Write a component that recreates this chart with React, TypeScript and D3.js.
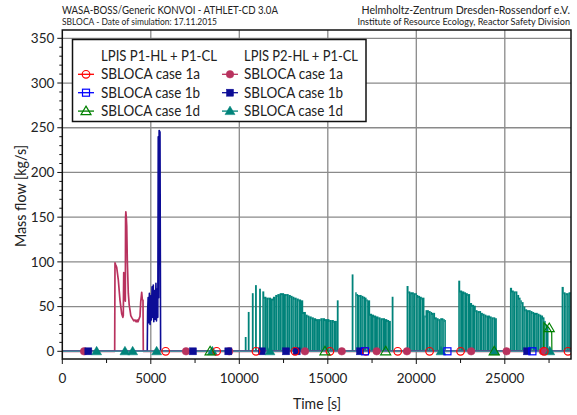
import React from "react";
import * as d3 from "d3";

// ---------- DATA ----------
const xTicks = [0, 5000, 10000, 15000, 20000, 25000];
const yTicks = [0, 50, 100, 150, 200, 250, 300, 350];

// P2 case 1a (crimson) time / mass flow
const p2aLine: [number, number][] = [
  [0, 0], [2960, 0], [2977, 99], [3010, 97], [3073, 94], [3164, 80], [3260, 57], [3356, 42],
  [3420, 38], [3446, 40], [3470, 88], [3500, 84], [3525, 60], [3560, 56], [3575, 150],
  [3590, 156], [3615, 150], [3640, 140], [3672, 102], [3729, 65], [3780, 52], [3825, 46],
  [3870, 40], [3921, 38], [3980, 36], [4040, 34], [4107, 35], [4170, 33], [4230, 35],
  [4277, 33], [4330, 36], [4390, 39], [4430, 55], [4486, 66], [4520, 58], [4559, 57],
  [4576, 0], [28740, 0],
];
// P2 case 1b (navy)
const p2bLine: [number, number][] = [
  [0, 0], [4800, 0], [4820, 45], [4850, 60], [4880, 32], [4920, 65], [4960, 30], [5000, 62],
  [5030, 35], [5070, 72], [5100, 38], [5140, 74], [5170, 33], [5210, 68], [5250, 36],
  [5290, 76], [5320, 34], [5360, 70], [5395, 38], [5420, 240], [5445, 60], [5470, 247],
  [5520, 245], [5555, 0], [28740, 0],
];
// P1 case 1d (green) – small late rise
const p1dLine: [number, number][] = [
  [0, 0], [27200, 0], [27210, 32], [27500, 26], [27650, 21], [27660, 0], [28740, 0],
];
const p1aLine: [number, number][] = [[0, 0], [28740, 0]];
const p1bLine: [number, number][] = [[0, 0], [28740, 0]];
const p2dLine: [number, number][] = [[0, 0], [28740, 0]];

// P2 case 1d (teal) isolated pump spikes [time, flow]
const p2dSpikes: [number, number][] = [
  [10360, 16], [10530, 44], [10760, 65], [10940, 74], [11170, 70],
  [15560, 57], [16400, 86], [18660, 61],
];
// P2 case 1d (teal) dense pump-cycling blocks, step envelopes [time, flow]; last = end
const p2dBlock1: [number, number][] = [
  [11300, 67], [11400, 61], [11520, 60], [11650, 60], [11780, 59], [11900, 61], [12030, 63],
  [12150, 64], [12280, 65], [12400, 65], [12520, 64], [12650, 64], [12780, 63], [12900, 62],
  [13000, 61], [13100, 60], [13230, 59], [13350, 58], [13480, 57], [13600, 44], [13750, 41],
  [13850, 40], [13950, 39], [14080, 38], [14200, 37], [14330, 36], [14450, 36], [14580, 37],
  [14700, 37], [14830, 36], [14950, 36], [15080, 35], [15200, 35], [15330, 34], [15450, 34],
  [15500, 0],
];
const p2dBlock2: [number, number][] = [
  [16550, 66], [16620, 64], [16700, 63], [16800, 63], [16900, 62], [17000, 61], [17100, 60],
  [17180, 58], [17250, 57], [17380, 42], [17490, 41], [17600, 40], [17720, 39], [17850, 38],
  [17970, 37], [18100, 37], [18220, 36], [18350, 35], [18450, 34], [18550, 0],
];
const p2dBlock3: [number, number][] = [
  [19450, 73], [19550, 67], [19650, 66], [19750, 66], [19850, 65], [19950, 65], [20020, 63],
  [20100, 62], [20200, 61], [20300, 60], [20450, 40], [20520, 46], [20600, 46], [20700, 45],
  [20800, 44], [20880, 43], [20950, 43], [21050, 38], [21150, 37], [21250, 36], [21350, 37],
  [21450, 37], [21520, 36], [21600, 35], [21660, 0],
];
const p2dBlock4: [number, number][] = [
  [22370, 79], [22470, 68], [22580, 67], [22700, 66], [22800, 65], [22900, 64], [23030, 54],
  [23140, 52], [23250, 51], [23350, 46], [23450, 45], [23550, 45], [23650, 43], [23750, 42],
  [23850, 41], [23950, 40], [24050, 40], [24150, 39], [24250, 38], [24350, 38], [24450, 37],
  [24540, 0],
];
const p2dBlock5: [number, number][] = [
  [25290, 71], [25400, 68], [25500, 67], [25600, 67], [25700, 63], [25800, 60], [25880, 57],
  [25950, 55], [26050, 50], [26150, 47], [26250, 46], [26350, 46], [26450, 45], [26550, 44],
  [26650, 43], [26750, 43], [26850, 42], [26950, 41], [27050, 40], [27150, 38], [27230, 34],
  [27300, 30], [27380, 28], [27460, 0],
];
const p2dBlock6: [number, number][] = [
  [28210, 72], [28320, 66], [28420, 65], [28500, 65], [28600, 66], [28700, 66], [28900, 0],
];

// marker positions on the curves (time)
const p1aMarks = [5840, 8720, 10940, 13150, 15120, 17150, 18950, 20750, 22500, 27230, 28570];
const p1bMarks = [17100, 21760, 26560];
const p1dMarks: [number, number][] = [[8350, 0], [14840, 0], [18270, 0], [24400, 0], [27510, 26]];
const p2aMarks = [1230, 6990, 9430, 13710, 15790, 17760, 19470, 23100, 25100, 27150];
const p2bMarks = [1470, 7380, 9380, 11270, 12640, 13240, 16820, 26260];
const p2dMarks = [1940, 3540, 3975, 5330, 8475, 11730, 21400, 24420, 27540];

const legendHeaders = ["LPIS P1-HL + P1-CL", "LPIS P2-HL + P1-CL"];
const legendLabels = ["SBLOCA case 1a", "SBLOCA case 1b", "SBLOCA case 1d"];

// ---------- STYLE ----------
const C = {
  p1a: "#ff0000",
  p1b: "#0000ff",
  p1d: "#008000",
  p2a: "#b8325e",
  p2b: "#0c0c96",
  p2d: "#00837a",
};
const FONT = "Lato, 'Open Sans', sans-serif";

const W = 577, H = 415;
const L = 62.3, R = 571, T = 30, B = 359;

export default function App() {
  const x = d3.scaleLinear().domain([0, 28740]).range([L, R]);
  const y = d3.scaleLinear().domain([-8.6, 359.3]).range([B, T]);
  const line = d3.line<[number, number]>().x((d) => x(d[0])).y((d) => y(d[1]));

  const y0 = y(0);

  const circle = (cx: number, cy: number, color: string, filled: boolean, key: string) => (
    <circle key={key} cx={cx} cy={cy} r={3.8} fill={filled ? color : "none"} stroke={color} strokeWidth={filled ? 0.5 : 1.2} />
  );
  const square = (cx: number, cy: number, color: string, filled: boolean, key: string) => (
    <rect key={key} x={cx - 3.5} y={cy - 3.5} width={7} height={7} fill={filled ? color : "none"} stroke={color} strokeWidth={filled ? 0.5 : 1.2} />
  );
  const tri = (cx: number, cy: number, color: string, filled: boolean, key: string) => (
    <path key={key} d={`M${cx},${cy - 5} L${cx + 5},${cy + 3.5} L${cx - 5},${cy + 3.5} Z`} fill={filled ? color : "none"} stroke={color} strokeWidth={filled ? 0.5 : 1.2} />
  );

  const blocks = [p2dBlock1, p2dBlock2, p2dBlock3, p2dBlock4, p2dBlock5, p2dBlock6];

  const xMinor = d3.range(0, 28741, 2500);
  const yMinor = d3.range(0, 351, 10);

  const txt = { fill: "#222", lengthAdjust: "spacingAndGlyphs" as const };

  return (
    <svg width={W} height={H} style={{ position: "absolute", left: 0, top: 0, background: "#fff" }} fontFamily={FONT}>
      <rect x={0} y={0} width={W} height={H} fill="#fff" />
      {/* header */}
      <text x={62} y={14} fontSize={12} textLength={216} {...txt}>WASA-BOSS/Generic KONVOI - ATHLET-CD 3.0A</text>
      <text x={62} y={25} fontSize={9.5} textLength={155} {...txt}>SBLOCA - Date of simulation: 17.11.2015</text>
      <text x={570} y={14} fontSize={10.6} textAnchor="end" fill="#222">Helmholtz-Zentrum Dresden-Rossendorf e.V.</text>
      <text x={570} y={25} fontSize={9.1} textAnchor="end" fill="#222">Institute of Resource Ecology, Reactor Safety Division</text>

      <defs>
        <clipPath id="plot">
          <rect x={L} y={T} width={R - L} height={B - T} />
        </clipPath>
      </defs>

      {/* grid */}
      {xTicks.filter((t) => t > 0).map((t) => (
        <line key={"gx" + t} x1={x(t)} x2={x(t)} y1={T} y2={B} stroke="#8a8a8a" strokeWidth={1.3} />
      ))}
      {yTicks.filter((t) => t > 0).map((t) => (
        <line key={"gy" + t} x1={L} x2={R} y1={y(t)} y2={y(t)} stroke="#8a8a8a" strokeWidth={1.3} />
      ))}

      <g clipPath="url(#plot)">
        {/* P2 case 1d blocks */}
        {blocks.map((b, bi) => (
          <g key={"b" + bi}>
            {b.slice(0, -1).map((d, i) => {
              const x1 = x(d[0]);
              const x2 = x(b[i + 1][0]);
              return <rect key={i} x={x1} y={y(d[1])} width={x2 - x1 + 0.2} height={y0 - y(d[1])} fill={C.p2d} />;
            })}
            {b.slice(1, -1).map((d, i) => (
              i % 2 === 0 ? (
                <line key={"l" + i} x1={x(d[0])} x2={x(d[0])} y1={y(Math.min(d[1], b[i][1])) + 2} y2={y0 - 1} stroke="#a8d8d0" strokeWidth={0.6} opacity={0.75} />
              ) : null
            ))}
          </g>
        ))}
        {p2dSpikes.map((d, i) => (
          <rect key={"s" + i} x={x(d[0]) - 0.9} y={y(d[1])} width={1.8} height={y0 - y(d[1])} fill={C.p2d} />
        ))}
        <path d={line(p2aLine) || ""} fill="none" stroke={C.p2a} strokeWidth={1.7} strokeLinejoin="round" />
        <path d={line(p2bLine) || ""} fill="none" stroke={C.p2b} strokeWidth={1.6} strokeLinejoin="round" />
        <path d={line(p1dLine) || ""} fill="none" stroke={C.p1d} strokeWidth={1.2} />
        <path d={line(p1aLine) || ""} fill="none" stroke={C.p1a} strokeWidth={1.2} />
        <path d={line(p1bLine) || ""} fill="none" stroke={C.p1b} strokeWidth={1.2} />
        <path d={line(p2dLine) || ""} fill="none" stroke="#4a8a9c" strokeWidth={1.6} />

        {/* markers */}
        {p2aMarks.map((t, i) => circle(x(t), y0, C.p2a, true, "ma" + i))}
        {p2bMarks.map((t, i) => square(x(t), y0, C.p2b, true, "mb" + i))}
        {p2dMarks.map((t, i) => tri(x(t), y0, C.p2d, true, "md" + i))}
        {p1aMarks.map((t, i) => circle(x(t), y0, C.p1a, false, "na" + i))}
        {p1bMarks.map((t, i) => square(x(t), y0, C.p1b, false, "nb" + i))}
        {p1dMarks.map((d, i) => tri(x(d[0]), y(d[1]), C.p1d, false, "nd" + i))}
      </g>

      {/* frame */}
      <rect x={L} y={T} width={R - L} height={B - T} fill="none" stroke="#111" strokeWidth={1.5} />

      {/* y ticks */}
      {yMinor.map((t) => (
        <line key={"ym" + t} x1={L - (t % 50 === 0 ? 5 : 3)} x2={L} y1={y(t)} y2={y(t)} stroke="#111" strokeWidth={1} />
      ))}
      {yTicks.map((t) => (
        <text key={"yl" + t} x={L - 8} y={y(t)} dy="0.35em" textAnchor="end" fontSize={13.5} fill="#222">{t}</text>
      ))}
      {/* x ticks */}
      {xMinor.map((t) => (
        <line key={"xm" + t} x1={x(t)} x2={x(t)} y1={B} y2={B + (t % 5000 === 0 ? 5 : 4)} stroke="#111" strokeWidth={1} />
      ))}
      {xTicks.map((t) => (
        <text key={"xl" + t} x={x(t)} y={383} textAnchor="middle" fontSize={13.5} fill="#222">{t}</text>
      ))}

      {/* axis titles */}
      <text x={293} y={409} fontSize={14.5} textLength={48} {...txt}>Time [s]</text>
      <text transform="translate(26,247) rotate(-90)" fontSize={14.5} textLength={102} {...txt}>Mass flow [kg/s]</text>

      {/* legend */}
      <rect x={72.5} y={39.5} width={293.5} height={82} fill="#fff" stroke="#111" strokeWidth={1.5} />
      <text x={101} y={55.7} dy="0.35em" fontSize={14.5} textLength={116} {...txt}>{legendHeaders[0]}</text>
      <text x={244} y={55.7} dy="0.35em" fontSize={14.5} textLength={114} {...txt}>{legendHeaders[1]}</text>
      {legendLabels.map((lab, r) => {
        const cy = 74.3 + r * 18.4;
        const p1c = [C.p1a, C.p1b, C.p1d][r];
        const p2c = [C.p2a, C.p2b, C.p2d][r];
        const mk = [circle, square, tri][r];
        return (
          <g key={"lr" + r}>
            <line x1={78} x2={94} y1={cy} y2={cy} stroke={p1c} strokeWidth={1.3} />
            {mk(86, cy, p1c, false, "lm1" + r)}
            <text x={101} y={cy} dy="0.35em" fontSize={14.5} textLength={99} {...txt}>{lab}</text>
            <line x1={222} x2={238} y1={cy} y2={cy} stroke={p2c} strokeWidth={1.3} />
            {mk(230, cy, p2c, true, "lm2" + r)}
            <text x={244} y={cy} dy="0.35em" fontSize={14.5} textLength={99} {...txt}>{lab}</text>
          </g>
        );
      })}
    </svg>
  );
}
